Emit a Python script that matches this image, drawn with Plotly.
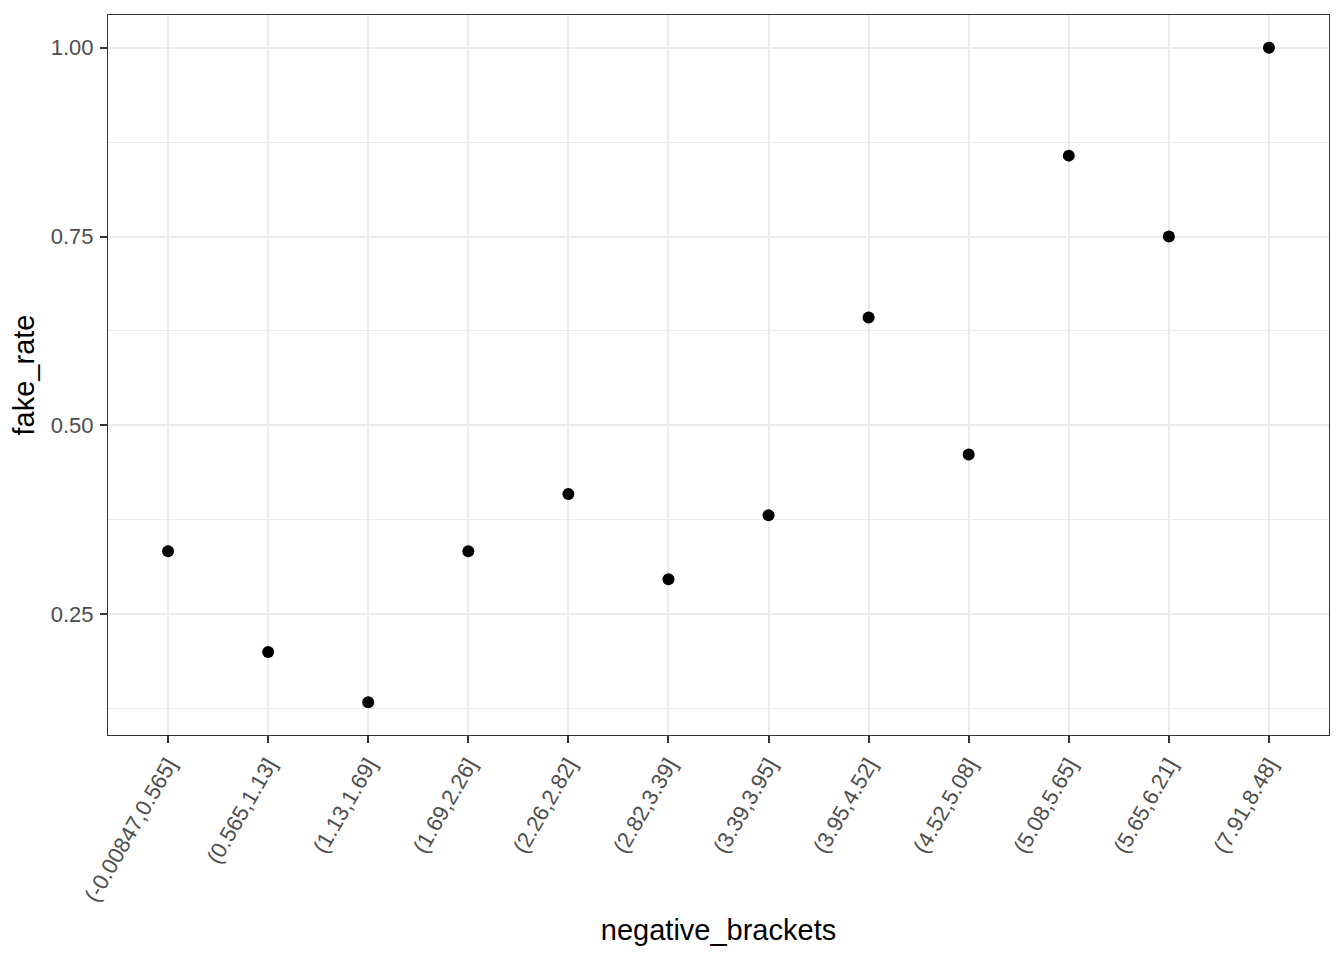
import plotly.graph_objects as go

categories = ["(-0.00847,0.565]", "(0.565,1.13]", "(1.13,1.69]", "(1.69,2.26]",
              "(2.26,2.82]", "(2.82,3.39]", "(3.39,3.95]", "(3.95,4.52]",
              "(4.52,5.08]", "(5.08,5.65]", "(5.65,6.21]", "(7.91,8.48]"]
fake_rate = [0.3333, 0.2000, 0.1333, 0.3333, 0.4091, 0.2963, 0.3810, 0.6429,
             0.4615, 0.8571, 0.7500, 1.0000]
y_ticks = [0.25, 0.50, 0.75, 1.00]
y_tick_labels = ["0.25", "0.50", "0.75", "1.00"]

fig = go.Figure(go.Scatter(
    x=list(range(len(categories))), y=fake_rate, mode="markers",
    marker=dict(color="black", size=12, line=dict(width=0)),
))

font = "Liberation Sans, Arial, sans-serif"
# page body adds an 8px offset, so the figure is 8px smaller than the window
fig.update_layout(
    width=1336, height=952,
    margin=dict(l=100, r=15, t=7, b=225),
    plot_bgcolor="white", paper_bgcolor="white",
    showlegend=False,
    font=dict(family=font, color="#4D4D4D", size=22),
)
fig.update_xaxes(
    range=[-0.6, len(categories) - 0.4],
    tickvals=list(range(len(categories))), ticktext=categories,
    tickangle=-60, tickfont=dict(size=22, color="#4D4D4D"),
    ticks="outside", ticklen=7, tickwidth=2, tickcolor="#333333",
    showgrid=True, gridcolor="#EBEBEB", gridwidth=2,
    showline=True, linecolor="#333333", linewidth=1, mirror=True,
    zeroline=False,
    title=dict(text="negative_brackets", font=dict(size=29, color="black"), standoff=14),
)
fig.update_yaxes(
    range=[0.0900, 1.0433],
    tickvals=y_ticks, ticktext=y_tick_labels,
    tickfont=dict(size=22, color="#4D4D4D"),
    ticks="outside", ticklen=7, tickwidth=2, tickcolor="#333333",
    ticklabelstandoff=2,
    showgrid=True, gridcolor="#EBEBEB", gridwidth=2,
    minor=dict(tickvals=[0.125, 0.375, 0.625, 0.875], showgrid=True,
               gridcolor="#EBEBEB", gridwidth=1, ticks=""),
    showline=True, linecolor="#333333", linewidth=1, mirror=True,
    zeroline=False,
    title=dict(text="fake_rate", font=dict(size=29, color="black"), standoff=10),
)

fig.write_html("out.html")
